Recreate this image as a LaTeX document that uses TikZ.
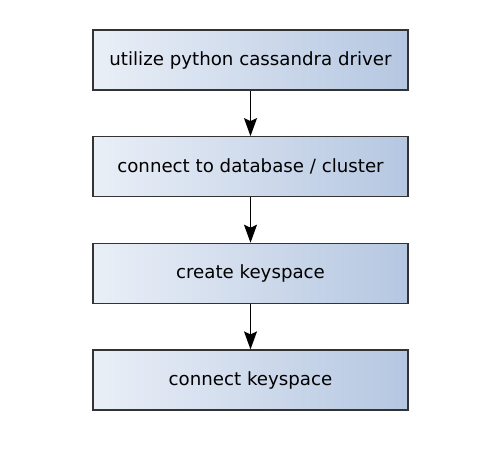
\documentclass[tikz,border=0pt]{standalone}
\usepackage{fontspec}
\setmainfont{DejaVu Sans}
\usetikzlibrary{arrows.meta}
\definecolor{gleft}{HTML}{EAEFF7}
\definecolor{gright}{HTML}{B5C7E1}
\definecolor{edge}{HTML}{333333}
\begin{document}
\begin{tikzpicture}[x=1pt,y=-1pt,
  stepbox/.style={draw=edge,line width=1.2pt,left color=gleft,right color=gright,
    minimum width=315pt,minimum height=60pt,inner sep=0pt,font=\fontsize{18.2}{22}\selectfont},
  conn/.style={-{Stealth[length=18pt,width=13pt,inset=3pt]},line width=1.3pt,black}]
\useasboundingbox (0,0) rectangle (488,456);
\node[stepbox] (a) at (250.5,60) {utilize python cassandra driver};
\node[stepbox] (b) at (250.5,166.7) {connect to database / cluster};
\node[stepbox] (c) at (250.5,273.3) {create keyspace};
\node[stepbox] (d) at (250.5,380) {connect keyspace};
\draw[conn] (a) -- (b);
\draw[conn] (b) -- (c);
\draw[conn] (c) -- (d);
\end{tikzpicture}
\end{document}
